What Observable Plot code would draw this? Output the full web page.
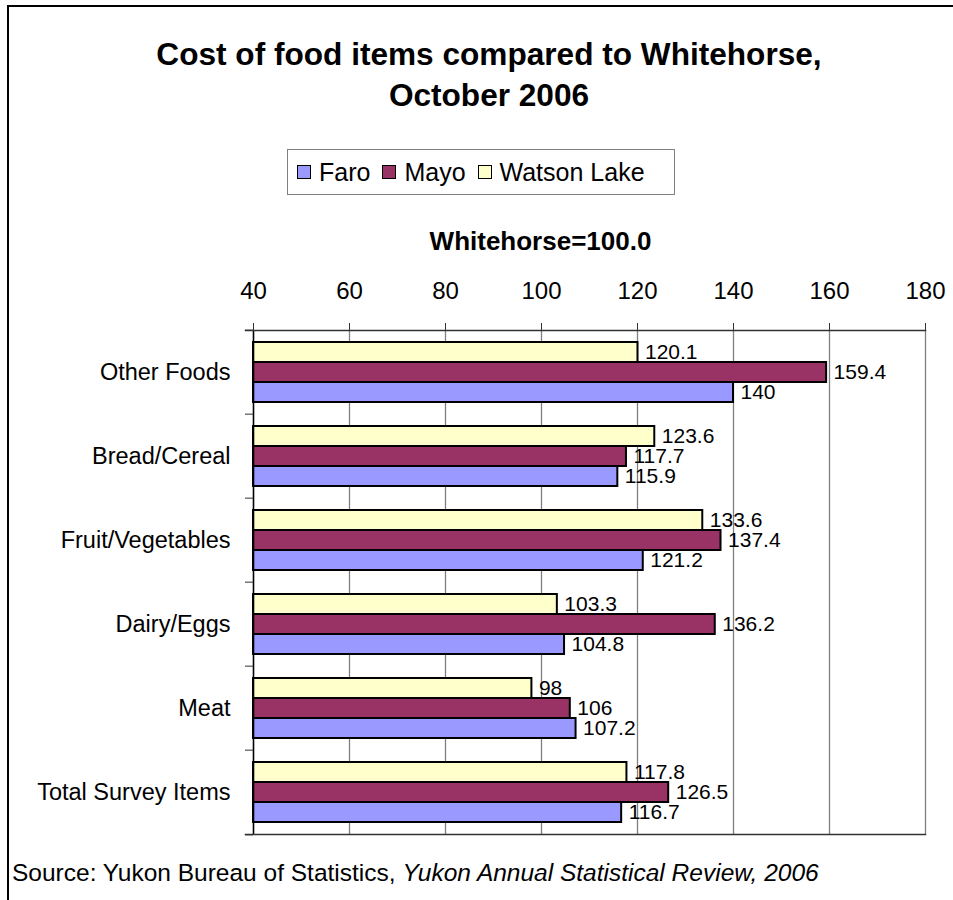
<!DOCTYPE html>
<html><head><meta charset="utf-8">
<script src="https://cdn.jsdelivr.net/npm/d3@7"></script>
<script src="https://cdn.jsdelivr.net/npm/@observablehq/plot@0.6"></script>
<style>
body{margin:0;background:#fff;}
#wrap{position:relative;width:953px;height:900px;overflow:hidden;font-family:"Liberation Sans",Arial,sans-serif;color:#000;background:#fff;}
#frame{position:absolute;left:7px;top:5px;width:1000px;height:1000px;border-left:2px solid #000;border-top:2px solid #000;}
#title{position:absolute;left:0;top:33.5px;width:978px;text-align:center;font-weight:bold;font-size:31.6px;line-height:41px;}
#legend{position:absolute;left:287px;top:149px;width:377px;height:44px;border:1.5px solid #808080;display:flex;align-items:center;padding-left:9px;box-sizing:content-box;}
#legend .item{display:flex;align-items:center;margin-right:12px;}
#legend .sw{width:12px;height:12px;border:1.5px solid #000;margin-right:8px;}
#legend .lab{font-size:25px;line-height:29px;}
#xlabel{position:absolute;left:0;top:228px;width:1081px;text-align:center;font-weight:bold;font-size:26px;line-height:26px;}
#chart{position:absolute;left:0;top:260px;}
#source{position:absolute;left:12px;top:861px;font-size:24.5px;line-height:24.5px;white-space:nowrap;}
</style></head><body>
<div id="wrap">
  <div id="frame"></div>
  <div id="title"></div>
  <div id="legend"></div>
  <div id="xlabel"></div>
  <div id="chart"></div>
  <div id="source"></div>
</div>
<script>
// ---- data ----
const titleLines = ["Cost of food items compared to Whitehorse,", "October 2006"];
const axisTitle = "Whitehorse=100.0";
const sourceText = "Source: Yukon Bureau of Statistics, ";
const sourceItalic = "Yukon Annual Statistical Review, 2006";
const categories = ["Other Foods", "Bread/Cereal", "Fruit/Vegetables", "Dairy/Eggs", "Meat", "Total Survey Items"];
const series = ["Faro", "Mayo", "Watson Lake"];
const faro = [140, 115.9, 121.2, 104.8, 107.2, 116.7];
const mayo = [159.4, 117.7, 137.4, 136.2, 106, 126.5];
const watsonLake = [120.1, 123.6, 133.6, 103.3, 98, 117.8];
const seriesColors = ["#9999FF", "#993366", "#FFFFCC"];
const xTicks = [40, 60, 80, 100, 120, 140, 160, 180];
const xDomain = [40, 180];

// ---- text blocks ----
document.getElementById("title").innerHTML = titleLines.join("<br>");
document.getElementById("xlabel").textContent = axisTitle;
const src = document.getElementById("source");
src.appendChild(document.createTextNode(sourceText));
const it = document.createElement("i"); it.textContent = sourceItalic; src.appendChild(it);

const leg = document.getElementById("legend");
series.forEach((s, i) => {
  const item = document.createElement("div"); item.className = "item";
  const sw = document.createElement("div"); sw.className = "sw"; sw.style.background = seriesColors[i];
  const lab = document.createElement("span"); lab.className = "lab"; lab.textContent = s;
  item.appendChild(sw); item.appendChild(lab); leg.appendChild(item);
});

// ---- table ----
const seriesValues = [faro, mayo, watsonLake];
const rows = [];
categories.forEach((c, ci) => series.forEach((s, si) => rows.push({category: c, series: s, value: seriesValues[si][ci]})));

const W = 953, H = 590, mt = 68, mb = 14, ml = 253, mr = 28;
const bw = (H - mt - mb) / categories.length;
const font = '"Liberation Sans", Arial, sans-serif';

const chart = Plot.plot({
  width: W, height: H, marginTop: mt, marginBottom: mb, marginLeft: ml, marginRight: mr,
  style: {fontFamily: font, background: "transparent", overflow: "visible", color: "#000"},
  x: {domain: xDomain, ticks: xTicks},
  fy: {domain: categories, padding: 0, label: null},
  y: {domain: [...series].reverse(), paddingInner: 0, paddingOuter: 0.55, axis: null},
  color: {domain: series, range: seriesColors},
  marks: [
    Plot.ruleX(xTicks.slice(1), {stroke: "#808080", strokeWidth: 1.3}),
    Plot.barX(rows, {fy: "category", y: "series", x1: xDomain[0], x2: "value", fill: "series", stroke: "#000", strokeWidth: 2}),
    Plot.text(rows, {fy: "category", y: "series", x: "value", text: d => String(d.value), textAnchor: "start", dx: 7, fontSize: 21, fill: "#000"}),
    Plot.ruleX([xDomain[0]], {stroke: "#000", strokeWidth: 1.6}),
    Plot.axisX({anchor: "top", ticks: xTicks, tickSize: 8, tickPadding: 24, fontSize: 24, label: null, stroke: "#333"}),
    Plot.frame({anchor: "top", facetAnchor: "top", insetLeft: -8, stroke: "#333", strokeWidth: 1.5}),
    Plot.frame({anchor: "bottom", facetAnchor: "bottom", insetLeft: -8, stroke: "#333", strokeWidth: 1.5}),
    Plot.axisFy({anchor: "left", tickSize: 8, dy: -bw / 2, text: null, label: null, stroke: "#333"}),
    Plot.axisFy({anchor: "left", ticks: [categories[categories.length - 1]], tickSize: 8, dy: bw / 2, text: null, label: null, stroke: "#333"}),
    Plot.axisFy({anchor: "left", tickSize: 0, tickPadding: 23, fontSize: 23.5, label: null})
  ]
});
document.getElementById("chart").appendChild(chart);
</script>
</body></html>
